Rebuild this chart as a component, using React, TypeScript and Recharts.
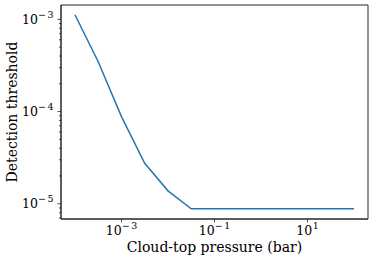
import { LineChart, Line, XAxis, YAxis, ReferenceArea } from "recharts";

// cloud-top pressure (bar) and detection threshold
const pressure = [1e-4, 3.16e-4, 1e-3, 3.16e-3, 1e-2, 3.16e-2, 1e-1, 3.16e-1, 1, 3.16, 10, 31.6, 100];
const threshold = [1.12e-3, 3.47e-4, 8.8e-5, 2.75e-5, 1.38e-5, 8.8e-6, 8.8e-6, 8.8e-6, 8.8e-6, 8.8e-6, 8.8e-6, 8.8e-6, 8.8e-6];

const xTicks = [1e-3, 1e-1, 10];
const yTicks = [
  7e-6, 8e-6, 9e-6, 1e-5,
  2e-5, 3e-5, 4e-5, 5e-5, 6e-5, 7e-5, 8e-5, 9e-5, 1e-4,
  2e-4, 3e-4, 4e-4, 5e-4, 6e-4, 7e-4, 8e-4, 9e-4, 1e-3,
];
const xDomain = [5.01e-5, 199.5];
const yDomain = [6.83e-6, 1.43e-3];

const data = pressure.map((p, i) => ({ p, t: threshold[i] }));

const FONT = "'DejaVu Serif', serif";
const INK = "#262626";

function expLabel(v: number) {
  const e = Math.round(Math.log10(v));
  return { e, major: Math.abs(Math.log10(v) - e) < 1e-6 };
}

function Sup({ e }: { e: number }) {
  if (e >= 0) {
    return <tspan dy={-6} dx={0.5} fontSize={9.5}>{e}</tspan>;
  }
  return (
    <>
      <tspan dy={-6} fontSize={9.5}>{"\u2212"}</tspan>
      <tspan dx={1.5} fontSize={9.5}>{-e}</tspan>
    </>
  );
}

function XTick(props: any) {
  const { x, y, payload } = props;
  const { e } = expLabel(payload.value);
  return (
    <g>
      <line x1={x} x2={x} y1={y} y2={y + 3.5} stroke={INK} strokeWidth={0.8} />
      <text x={x} y={y + 15.5} textAnchor="middle" fontFamily={FONT} fontSize={12.5} fill="#000">
        10<Sup e={e} />
      </text>
    </g>
  );
}

function YTick(props: any) {
  const { x, y, payload } = props;
  const { e, major } = expLabel(payload.value);
  return (
    <g>
      <line x1={x} x2={x - (major ? 3.5 : 2)} y1={y} y2={y} stroke={INK} strokeWidth={0.8} />
      {major && (
        <text x={x - 7.5} y={y + 4.6} textAnchor="end" fontFamily={FONT} fontSize={12.5} fill="#000">
          10<Sup e={e} />
        </text>
      )}
    </g>
  );
}

export default function App() {
  return (
    <div style={{ position: "absolute", left: 0, top: 0, background: "#fff" }}>
      <LineChart width={374} height={261} data={data} margin={{ top: 5, right: 6, bottom: 0, left: 0 }}>
        <XAxis
          dataKey="p" type="number" scale="log" domain={xDomain} allowDataOverflow
          ticks={xTicks} interval={0} tick={<XTick />} tickLine={false} tickSize={0} tickMargin={0}
          height={42} axisLine={{ stroke: INK, strokeWidth: 1 }}
          label={{
            content: (p: any) => (
              <text x={p.viewBox.x + p.viewBox.width / 2} y={p.viewBox.y + 33} textAnchor="middle" fontFamily={FONT} fontSize={14} fill="#000">
                Cloud-top pressure (bar)
              </text>
            ),
          }}
        />
        <YAxis
          type="number" scale="log" domain={yDomain} allowDataOverflow
          ticks={yTicks} interval={0} tick={<YTick />} tickLine={false} tickSize={0} tickMargin={0}
          width={61} axisLine={{ stroke: INK, strokeWidth: 1 }}
          label={{
            content: (p: any) => {
              const cy = p.viewBox.y + p.viewBox.height / 2;
              return (
                <text x={12} y={cy} transform={`rotate(-90 12 ${cy})`} textAnchor="middle" dominantBaseline="central" fontFamily={FONT} fontSize={14} fill="#000">
                  Detection threshold
                </text>
              );
            },
          }}
        />
        {/* frame: top and right spines */}
        <ReferenceArea
          x1={xDomain[0]} x2={xDomain[1]} y1={yDomain[0]} y2={yDomain[1]}
          ifOverflow="visible" fill="none" fillOpacity={0} stroke={INK} strokeWidth={1}
        />
        <Line dataKey="t" stroke="#1f77b4" strokeWidth={1.5} dot={false} isAnimationActive={false} />
      </LineChart>
    </div>
  );
}
